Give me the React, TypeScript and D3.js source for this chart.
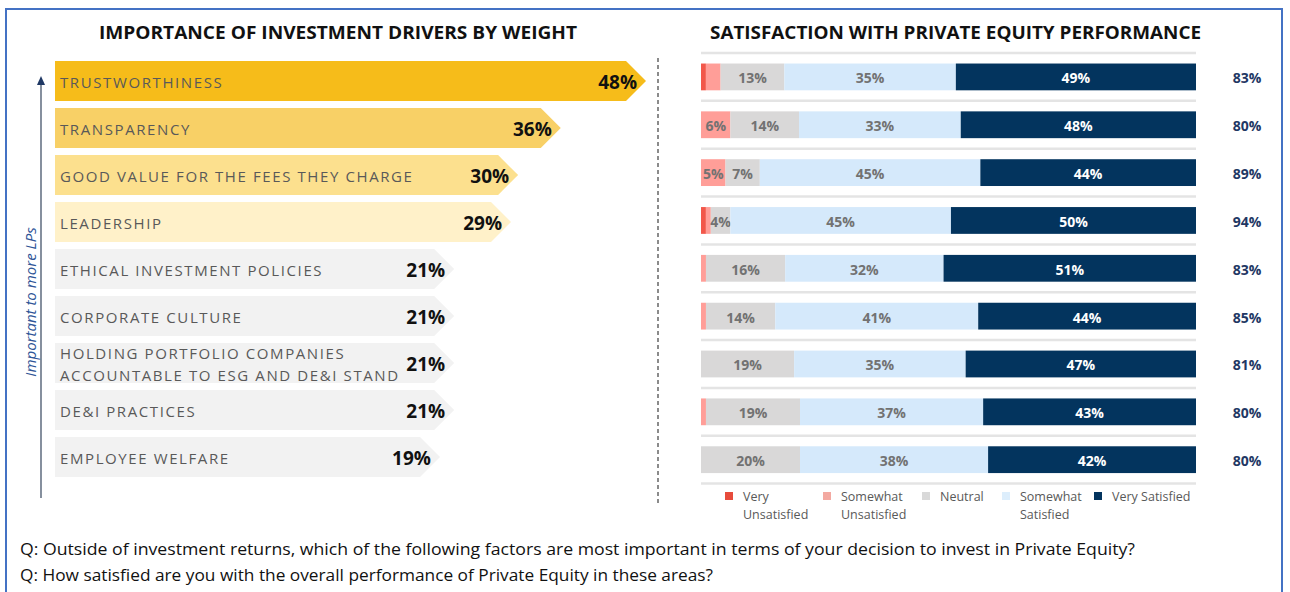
import React from "react";
import * as d3 from "d3";

// left chart: investment drivers
const drivers = [
  ["TRUSTWORTHINESS"],
  ["TRANSPARENCY"],
  ["GOOD VALUE FOR THE FEES THEY CHARGE"],
  ["LEADERSHIP"],
  ["ETHICAL INVESTMENT POLICIES"],
  ["CORPORATE CULTURE"],
  ["HOLDING PORTFOLIO COMPANIES", "ACCOUNTABLE TO ESG AND DE&I STAND"],
  ["DE&I PRACTICES"],
  ["EMPLOYEE WELFARE"],
];
const driverWeights = [48, 36, 30, 29, 21, 21, 21, 21, 19];

// right chart: satisfaction, one value per driver row
const veryUnsatisfied = [1, 0, 0, 1, 0, 0, 0, 0, 0];
const somewhatUnsatisfied = [3, 6, 5, 1, 1, 1, 0, 1, 0];
const neutral = [13, 14, 7, 4, 16, 14, 19, 19, 20];
const somewhatSatisfied = [35, 33, 45, 45, 32, 41, 35, 37, 38];
const verySatisfied = [49, 48, 44, 50, 51, 44, 47, 43, 42];
const totalSatisfied = [83, 80, 89, 94, 83, 85, 81, 80, 80];

const legendLabels = [
  ["Very", "Unsatisfied"],
  ["Somewhat", "Unsatisfied"],
  ["Neutral"],
  ["Somewhat", "Satisfied"],
  ["Very Satisfied"],
];

const barColors = ["#F6BC1A", "#F8D066", "#FCE08E", "#FFF1C9", "#F2F2F2"];
const segColors = ["#F2574A", "#FF9E98", "#D9D8D8", "#D5E9FB", "#03345E"];
const legendColors = ["#E74C3C", "#F3A9A1", "#D9D9D9", "#DDEEFC", "#03345E"];
const legendX = [725, 823, 922, 1002, 1094];

const FONT = "'Open Sans', sans-serif";

export default function App() {
  const W = 1290, H = 592;
  const idx = d3.range(drivers.length);

  // left scales
  const yL = d3.scaleBand<number>().domain(idx).range([57.5, 480.5]).paddingInner(0.149).paddingOuter(0.0745);
  const xL = d3.scaleLinear().domain([0, 48]).range([305, 646]);
  const barX0 = 55;
  const point = 20;

  // right scales
  const yR = d3.scaleBand<number>().domain(idx).range([53, 483.6]).paddingInner(0.44).paddingOuter(0.22);
  const rows = idx.map((i) => ({
    vu: veryUnsatisfied[i],
    su: somewhatUnsatisfied[i],
    ne: neutral[i],
    ss: somewhatSatisfied[i],
    vs: verySatisfied[i],
  }));
  const keys = ["vu", "su", "ne", "ss", "vs"];
  const stacked = d3.stack<any>().keys(keys)(rows);
  const rowSum = rows.map((r) => d3.sum(keys, (k) => r[k]));

  return (
    <svg width={W} height={H} style={{ position: "absolute", left: 0, top: 0, background: "#fff" }} fontFamily={FONT}>
      <rect x={6} y={9} width={1276} height={620} fill="none" stroke="#4472C4" strokeWidth={2} />

      {/* titles */}
      <text x={338} y={39} textAnchor="middle" fontSize={18} fontWeight={700} fill="#111" textLength={478} lengthAdjust="spacingAndGlyphs">
        IMPORTANCE OF INVESTMENT DRIVERS BY WEIGHT
      </text>
      <text x={955.5} y={39} textAnchor="middle" fontSize={18} fontWeight={700} fill="#111" textLength={491} lengthAdjust="spacingAndGlyphs">
        SATISFACTION WITH PRIVATE EQUITY PERFORMANCE
      </text>

      {/* vertical arrow */}
      <line x1={41} x2={41} y1={498} y2={82} stroke="#44546A" strokeWidth={1.3} />
      <path d="M41,76 L45,85 L37,85 Z" fill="#1F3864" />
      <text transform="translate(32,302) rotate(-90)" textAnchor="middle" dominantBaseline="middle" fontSize={15} fontStyle="italic" fill="#2F5597">
        Important to more LPs
      </text>

      {/* left arrow bars */}
      {idx.map((i) => {
        const y0 = yL(i)!;
        const h = yL.bandwidth();
        const tip = xL(driverWeights[i]);
        const yc = y0 + h / 2;
        const d = `M${barX0},${y0} L${tip - point},${y0} L${tip},${yc} L${tip - point},${y0 + h} L${barX0},${y0 + h} Z`;
        const lines = drivers[i];
        return (
          <g key={"l" + i}>
            <path d={d} fill={barColors[Math.min(i, 4)]} />
            {lines.map((t, j) => (
              <text key={j} x={60} y={yc + 1 + (j - (lines.length - 1) / 2) * 22} dominantBaseline="central" fontSize={15} letterSpacing={1.6} fill="#595959">
                {t}
              </text>
            ))}
            <text x={tip - 9} y={yc + 1} textAnchor="end" dominantBaseline="central" fontSize={19} fontWeight={700} fill="#111">
              {driverWeights[i]}%
            </text>
          </g>
        );
      })}

      {/* divider */}
      <line x1={658} x2={658} y1={58} y2={506} stroke="#666" strokeWidth={1.5} strokeDasharray="4 3" />

      {/* right separators */}
      {d3.range(drivers.length + 1).map((i) => {
        const y = 53 + i * yR.step();
        return <line key={"s" + i} x1={701} x2={1196} y1={y} y2={y} stroke="#E4E4E4" strokeWidth={2.5} />;
      })}

      {/* stacked bars */}
      {stacked.map((layer, k) => (
        <g key={"k" + k}>
          {layer.map((seg, i) => {
            const x = d3.scaleLinear().domain([0, rowSum[i]]).range([701, 1196]);
            const v = seg[1] - seg[0];
            if (v <= 0) return null;
            const x0 = x(seg[0]);
            const x1 = x(seg[1]);
            const y0 = yR(i)!;
            return (
              <g key={i}>
                <rect x={x0} y={y0} width={x1 - x0} height={yR.bandwidth()} fill={segColors[k]} />
                {v >= 4 && (
                  <text x={(x0 + x1) / 2} y={y0 + yR.bandwidth() / 2 + 1} textAnchor="middle" dominantBaseline="central" fontSize={14} fontWeight={700} fill={k === 4 ? "#fff" : "#727272"}>
                    {v}%
                  </text>
                )}
              </g>
            );
          })}
        </g>
      ))}

      {/* totals */}
      {idx.map((i) => (
        <text key={"t" + i} x={1247} y={yR(i)! + yR.bandwidth() / 2 + 1} textAnchor="middle" dominantBaseline="central" fontSize={14} fontWeight={700} fill="#1F3864">
          {totalSatisfied[i]}%
        </text>
      ))}

      {/* legend */}
      {legendLabels.map((lab, k) => (
        <g key={"lg" + k}>
          <rect x={legendX[k]} y={492} width={8} height={8} fill={legendColors[k]} />
          {lab.map((t, j) => (
            <text key={j} x={legendX[k] + 18} y={496 + j * 18} dominantBaseline="central" fontSize={12.5} fill="#595959">
              {t}
            </text>
          ))}
        </g>
      ))}

      {/* questions */}
      <text x={20} y={555} fontSize={16} fill="#111" textLength={1115} lengthAdjust="spacingAndGlyphs">
        Q: Outside of investment returns, which of the following factors are most important in terms of your decision to invest in Private Equity?
      </text>
      <text x={20} y={581} fontSize={16} fill="#111" textLength={693} lengthAdjust="spacingAndGlyphs">
        Q: How satisfied are you with the overall performance of Private Equity in these areas?
      </text>
    </svg>
  );
}
